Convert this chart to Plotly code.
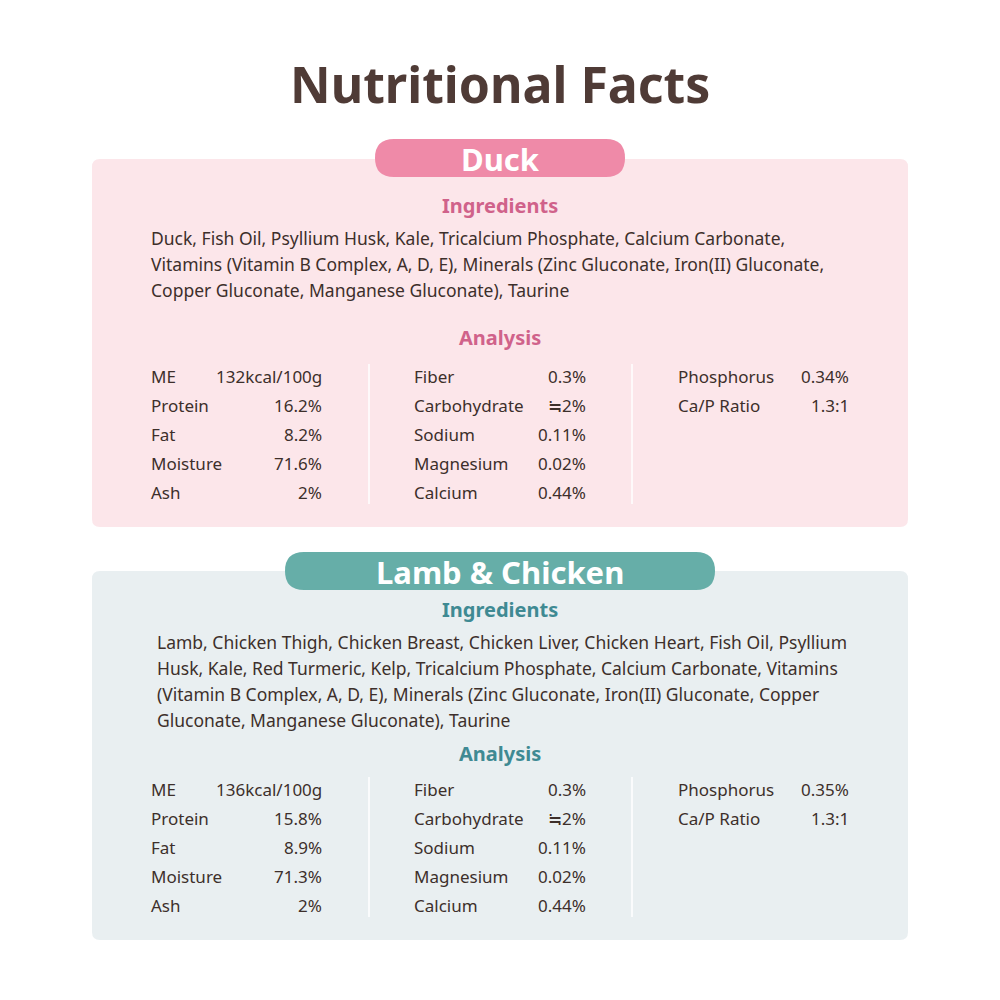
import plotly.graph_objects as go

title = "Nutritional Facts"

duck_lines = [
    "Duck, Fish Oil, Psyllium Husk, Kale, Tricalcium Phosphate, Calcium Carbonate,",
    "Vitamins (Vitamin B Complex, A, D, E), Minerals (Zinc Gluconate, Iron(II) Gluconate,",
    "Copper Gluconate, Manganese Gluconate), Taurine",
]
lamb_lines = [
    "Lamb, Chicken Thigh, Chicken Breast, Chicken Liver, Chicken Heart, Fish Oil, Psyllium",
    "Husk, Kale, Red Turmeric, Kelp, Tricalcium Phosphate, Calcium Carbonate, Vitamins",
    "(Vitamin B Complex, A, D, E), Minerals (Zinc Gluconate, Iron(II) Gluconate, Copper",
    "Gluconate, Manganese Gluconate), Taurine",
]

col1_labels = ["ME", "Protein", "Fat", "Moisture", "Ash"]
col2_labels = ["Fiber", "Carbohydrate", "Sodium", "Magnesium", "Calcium"]
col3_labels = ["Phosphorus", "Ca/P Ratio"]

duck_col1 = ["132kcal/100g", "16.2%", "8.2%", "71.6%", "2%"]
duck_col2 = ["0.3%", "≒2%", "0.11%", "0.02%", "0.44%"]
duck_col3 = ["0.34%", "1.3:1"]

lamb_col1 = ["136kcal/100g", "15.8%", "8.9%", "71.3%", "2%"]
lamb_col2 = ["0.3%", "≒2%", "0.11%", "0.02%", "0.44%"]
lamb_col3 = ["0.35%", "1.3:1"]

TXT = "#3d2f2b"
FONT = "Noto Sans"

fig = go.Figure()
shapes = []
ann = []


def rrect(x0, y0, x1, y1, r, color):
    p = (f"M {x0+r},{y0} L {x1-r},{y0} Q {x1},{y0} {x1},{y0+r} "
         f"L {x1},{y1-r} Q {x1},{y1} {x1-r},{y1} L {x0+r},{y1} "
         f"Q {x0},{y1} {x0},{y1-r} L {x0},{y0+r} Q {x0},{y0} {x0+r},{y0} Z")
    return dict(type="path", path=p, fillcolor=color, line=dict(width=0), layer="below")


def text(x, y, s, size=17, color=TXT, anchor="left", bold=False):
    ann.append(dict(x=x, y=y, text=f"<b>{s}</b>" if bold else s, showarrow=False,
                    xanchor=anchor, yanchor="middle",
                    font=dict(family=FONT, size=size, color=color)))


ann.append(dict(x=500, y=85, text=f"<b>{title}</b>", showarrow=False, xanchor="center",
                yanchor="middle", font=dict(family=FONT, size=50, color="#4f3b36")))


def panel(top, bottom, pill_x, pill_y, name, bg, pill, head, lines, ing_y, line_y0,
          ana_y, row_y0, c1, c2, c3, tx0):
    shapes.append(rrect(92, top, 908, bottom, 8, bg))
    shapes.append(rrect(pill_x[0], pill_y[0], pill_x[1], pill_y[1], 19, pill))
    text(500, (pill_y[0] + pill_y[1]) / 2 + 1, name, 31, "white", "center", True)
    text(500, ing_y, "Ingredients", 20, head, "center", True)
    for i, ln in enumerate(lines):
        text(tx0, line_y0 + i * 26, ln, 17.5)
    text(500, ana_y, "Analysis", 20, head, "center", True)
    for i in range(5):
        y = row_y0 + i * 29
        text(149, y, col1_labels[i])
        text(324, y, c1[i], anchor="right")
        text(412, y, col2_labels[i])
        text(588, y, c2[i], anchor="right")
    for i in range(2):
        y = row_y0 + i * 29
        text(676, y, col3_labels[i])
        text(851, y, c3[i], anchor="right")
    for x in (369, 632):
        shapes.append(dict(type="line", x0=x, x1=x, y0=row_y0 - 12, y1=row_y0 + 128,
                           line=dict(color="white", width=1.5)))


panel(160, 528, (375, 625), (140, 178), "Duck", "#fce6ea", "#ef8aa8", "#d0628a",
      duck_lines, 206, 239, 338, 377, duck_col1, duck_col2, duck_col3, 149)
panel(572, 941, (285, 715), (553, 591), "Lamb &amp; Chicken", "#e9eff1", "#66aea8", "#3f8a93",
      lamb_lines, 610, 643, 754, 790, lamb_col1, lamb_col2, lamb_col3, 155)

# page renders with an ~8px body offset, so the visible window is shifted
fig.update_layout(
    width=1000, height=1000, margin=dict(l=0, r=0, t=0, b=0),
    paper_bgcolor="white", plot_bgcolor="white",
    xaxis=dict(range=[8, 1008], visible=False, fixedrange=True),
    yaxis=dict(range=[1009, 9], visible=False, fixedrange=True),
    shapes=shapes, annotations=ann, showlegend=False,
)

fig.write_html("out.html")
